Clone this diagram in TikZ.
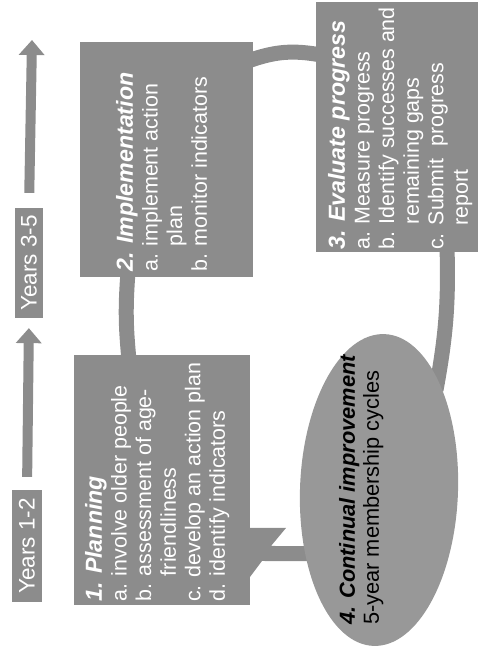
\documentclass[tikz,border=0pt]{standalone}
\usepackage{fontspec}
\setmainfont{Liberation Sans}
\usetikzlibrary{shapes,arrows.meta,calc,backgrounds}
\definecolor{mygray}{RGB}{140,140,140}
\definecolor{mygraylight}{RGB}{152,152,152}
\newcommand{\boxtitle}[1]{{\fontsize{33}{35}\selectfont\bfseries\itshape #1}}

\begin{document}
\begin{tikzpicture}[x=0.05cm,y=-0.05cm]

\tikzstyle{box} = [fill=mygray, inner sep=0, outer sep=0]
\tikzstyle{txt} = [rotate=90, anchor=north west, inner sep=0, align=left,
    text=white, font=\fontsize{30.5}{35}\selectfont]
\tikzstyle{years} = [fill=mygray, rotate=90, text=white, inner sep=0,
    minimum width=5.6cm, minimum height=1.5cm, font=\fontsize{32}{34}\selectfont]
\tikzstyle{band} = [draw=mygray, line width=0.75cm]
\tikzstyle{yarrow} = [draw=mygray, line width=0.5cm,
    -{Triangle[width=1.25cm,length=0.75cm]}]

\useasboundingbox (0,0) rectangle (480,648);

% =========================
% years - left column
% =========================
\node[years] (y12) at (27,546) {Years 1-2};
\node[years, minimum width=5.5cm, minimum height=1.4cm] (y35) at (29,263) {Years 3-5};
\coordinate (top) at (32,40);

\draw[yarrow, shorten <=0.65cm, shorten >=0.5cm] (y12.east) -- (y35.west);
\draw[yarrow, shorten <=0.75cm] (y35.east) -- (top);

% =========================
% four steps
% =========================
\node[box, minimum width=8.8cm, minimum height=12.5cm] (plan) at (162,480) {};
\node[box, minimum width=8.65cm, minimum height=11.75cm] (impl) at (166.5,159.5) {};
\node[box, minimum width=8.1cm, minimum height=12.5cm] (eval) at (397,127) {};
\node[ellipse, fill=mygraylight, inner sep=0, minimum width=7.9cm,
    minimum height=15.6cm, rotate=-2] (cont) at (379,490) {};

\node[txt] (plantxt) at ($(plan.south west)+(11,-3)$) {\boxtitle{1. Planning}\\
    a. involve older people\\ b. assessment of age-\\ \phantom{b. }friendliness\\
    c. develop an action plan\\ d. identify indicators};

\node[txt] (impltxt) at ($(impl.south west)+(36,-5)$) {\boxtitle{2. Implementation}\\
    a. implement action\\ \phantom{a. }plan\\ b. monitor indicators};

\node[txt] (evaltxt) at ($(eval.south west)+(12,-2)$) {\boxtitle{3. Evaluate progress}\\
    a. Measure progress\\ b. Identify successes and\\ \phantom{b. }remaining gaps\\
    c. Submit\ \ progress\\ \phantom{c. }report};

\node[txt, text=black, font=\fontsize{31}{34}\selectfont] (conttxt)
    at ($(cont.center)+(-40,135)$) {{\bfseries\itshape 4. Continual improvement}\\
    5-year membership cycles};

% =========================
% cycle bands
% =========================
\begin{scope}[on background layer]
\draw[band] ($(impl.south west)+(48,-5)$) to[bend right=5] ($(plan.north west)+(55,5)$);
\draw[band] ($(impl.north east)+(-5,19)$) to[bend left=15] ($(eval.north west)+(5,53)$);
\draw[band] ($(eval.south west)+(131,-5)$) to[bend left=6] ($(cont.center)+(57,-100)$);
\fill[mygray] ($(cont.center)+(-50,56)$) -- ($(plan.south east)+(21,-59)$)
    -- ($(plan.south east)+(36,-77)$) -- ($(plan.south east)+(-3,-77)$)
    -- ($(plan.south east)+(-3,-24)$) -- ($(plan.south east)+(12,-44)$)
    -- ($(cont.center)+(-50,71)$) -- cycle;
\end{scope}

\end{tikzpicture}
\end{document}
